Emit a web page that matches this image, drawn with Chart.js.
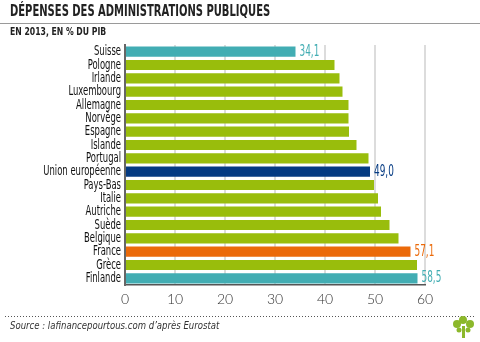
<!DOCTYPE html>
<html>
<head>
<meta charset="utf-8">
<script src="https://cdn.jsdelivr.net/npm/chart.js@4"></script>
<style>
  html, body { margin: 0; padding: 0; background: #fff; }
  #wrap { width: 480px; height: 342px; position: relative; }
</style>
</head>
<body>
<div id="wrap"><canvas id="myChart_bar"></canvas></div>
<script>
const countries = ['Suisse', 'Pologne', 'Irlande', 'Luxembourg', 'Allemagne', 'Norvège', 'Espagne', 'Islande',
  'Portugal', 'Union européenne', 'Pays-Bas', 'Italie', 'Autriche', 'Suède', 'Belgique', 'France', 'Grèce', 'Finlande'];
const spending = [34.1, 41.9, 42.9, 43.5, 44.7, 44.7, 44.8, 46.3, 48.7, 49.0, 49.8, 50.6, 51.2, 52.9, 54.7, 57.1, 58.4, 58.5];
const xTicks = [0, 10, 20, 30, 40, 50, 60];
// which bars get a value label
const labelled = ['Suisse', 'Union européenne', 'France', 'Finlande'];

const teal = '#42adb3';
const green = '#99bd0c';
const navy = '#043a82';
const orange = '#eb6a0a';

const barColors = countries.map(c => {
  if (c === 'Suisse' || c === 'Finlande') return teal;
  if (c === 'Union européenne') return navy;
  if (c === 'France') return orange;
  return green;
});

const condensed = '"DejaVu Sans Condensed", "DejaVu Sans", sans-serif';

// the original uses a very narrow font, so squeeze text horizontally
function squeezed(ctx, text, x, y, sx, align) {
  ctx.save();
  ctx.translate(x, y);
  ctx.scale(sx, 1);
  ctx.textAlign = align || 'left';
  ctx.fillText(text, 0, 0);
  ctx.restore();
}

const decor = {
  id: 'decor',
  afterDraw(chart) {
    const ctx = chart.ctx;
    ctx.save();
    ctx.fillStyle = '#222';
    ctx.textBaseline = 'middle';
    ctx.font = 'bold 15px ' + condensed;
    squeezed(ctx, 'DÉPENSES DES ADMINISTRATIONS PUBLIQUES', 10, 12, 0.74);
    ctx.strokeStyle = '#9a9a9a';
    ctx.lineWidth = 1;
    ctx.beginPath();
    ctx.moveTo(0, 23.5);
    ctx.lineTo(480, 23.5);
    ctx.stroke();
    ctx.font = 'bold 11px ' + condensed;
    squeezed(ctx, 'EN 2013, EN % DU PIB', 10, 32, 0.78);

    // dotted separator
    ctx.fillStyle = '#555';
    for (let x = 5; x < 476; x += 3) ctx.fillRect(x, 316, 1, 1);

    ctx.fillStyle = '#333';
    ctx.font = 'italic 10px ' + condensed;
    squeezed(ctx, 'Source : lafinancepourtous.com d\u2019après Eurostat', 10, 326, 0.95);

    // little tree
    ctx.fillStyle = '#8cb82b';
    ctx.fillRect(462, 326, 3, 12);
    [[457, 324, 4], [470, 324, 4], [463, 320, 4], [459, 330, 2.5], [468, 330, 2.5]].forEach(p => {
      ctx.beginPath();
      ctx.arc(p[0], p[1], p[2], 0, Math.PI * 2);
      ctx.fill();
    });

    // country names
    const yScale = chart.scales.y;
    ctx.fillStyle = '#111';
    ctx.font = '14px ' + condensed;
    countries.forEach((c, i) => {
      squeezed(ctx, c, 121, yScale.getPixelForValue(i), 0.67, 'right');
    });

    // value labels
    const meta = chart.getDatasetMeta(0);
    ctx.font = '15px ' + condensed;
    countries.forEach((c, i) => {
      if (!labelled.includes(c)) return;
      const bar = meta.data[i];
      ctx.fillStyle = barColors[i];
      squeezed(ctx, spending[i].toFixed(1).replace('.', ','), bar.x + 4, bar.y, 0.66);
    });
    ctx.restore();
  }
};

new Chart(document.getElementById('myChart_bar'), {
  type: 'bar',
  data: {
    labels: countries,
    datasets: [{
      data: spending,
      backgroundColor: barColors,
      barPercentage: 0.76,
      categoryPercentage: 1
    }]
  },
  options: {
    indexAxis: 'y',
    responsive: true,
    maintainAspectRatio: false,
    animation: false,
    layout: { padding: { top: 45, right: 55, left: 0, bottom: 0 } },
    plugins: { legend: { display: false }, tooltip: { enabled: false } },
    scales: {
      x: {
        min: 0,
        max: 60,
        afterBuildTicks: s => { s.ticks = xTicks.map(v => ({ value: v })); },
        afterFit: s => { s.height = 57; },
        grid: { color: '#dcdcdc', lineWidth: 2, drawTicks: false },
        border: { display: true, color: '#555', width: 1.5 },
        ticks: { color: '#333', padding: 6, font: { family: 'Lato, sans-serif', size: 14, weight: '300' } }
      },
      y: {
        afterFit: s => { s.width = 125; },
        grid: { display: false, drawTicks: false },
        border: { display: true, color: '#666', width: 2 },
        // names are drawn by the decor plugin
        ticks: { display: false, autoSkip: false }
      }
    }
  },
  plugins: [decor]
});
</script>
</body>
</html>
